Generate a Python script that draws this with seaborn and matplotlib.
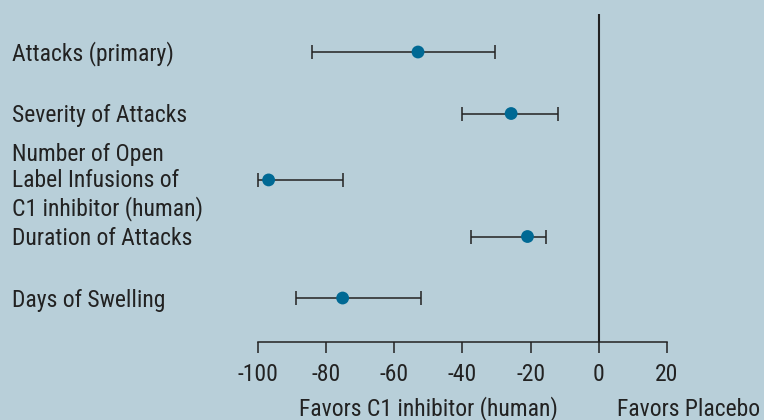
import matplotlib
matplotlib.use("Agg")
import matplotlib.pyplot as plt
import matplotlib.transforms as mtransforms
import seaborn as sns
import pandas as pd

# outcomes, estimate and 95% CI
outcomes = ["Attacks (primary)",
            "Severity of Attacks",
            "Number of Open\nLabel Infusions of\nC1 inhibitor (human)",
            "Duration of Attacks",
            "Days of Swelling"]
estimate = [-53.0, -25.7, -96.8, -20.9, -75.1]
ci_low = [-84.2, -40.0, -100.0, -37.4, -88.9]
ci_high = [-30.4, -12.0, -75.0, -15.4, -52.1]
xticks = [-100, -80, -60, -40, -20, 0, 20]

bg = "#b8cfd9"
dot = "#006994"
ink = "#222222"

sns.set_theme(style="white")
plt.rcParams["font.family"] = ["Roboto Condensed", "Archivo Narrow", "DejaVu Sans"]

# row positions (layout only)
row_y = [0, 1, 2.08, 3, 4]
df = pd.DataFrame({"outcome": outcomes, "est": estimate,
                   "lo": ci_low, "hi": ci_high, "y": row_y})

fig = plt.figure(figsize=(7.64, 4.2), dpi=100, facecolor=bg)
ax = fig.add_axes([257.7 / 764, (420 - 342.3) / 420,
                   (667 - 257.7) / 764, (342.3 - 14) / 420])
ax.set_facecolor(bg)

ax.errorbar(df["est"], df["y"],
            xerr=[df["est"] - df["lo"], df["hi"] - df["est"]],
            fmt="none", ecolor=ink, elinewidth=1.1, capsize=5.3,
            capthick=1.1, clip_on=False, zorder=2)
sns.scatterplot(data=df, x="est", y="y", ax=ax, color=dot, s=85,
                edgecolor="none", zorder=3, clip_on=False, legend=False)
ax.axvline(0, color=ink, lw=1.5, zorder=1)

ax.set_xlim(-100, 20)
ax.set_ylim(4.72, -0.618)
ax.set_xticks(xticks)
ax.set_xticklabels([str(t) for t in xticks])
ax.set_yticks([])
ax.set_xlabel("")
ax.set_ylabel("")
for s in ["top", "right", "left"]:
    ax.spines[s].set_visible(False)
ax.spines["bottom"].set_color(ink)
ax.spines["bottom"].set_linewidth(1.1)
ax.tick_params(axis="x", direction="out", length=8, width=1.1,
               color=ink, labelsize=17, labelcolor=ink, pad=7, bottom=True)

trans = mtransforms.blended_transform_factory(fig.transFigure, ax.transData)
trans = mtransforms.offset_copy(trans, fig=fig, x=0, y=-2, units="dots")
for lab, y in zip(outcomes, row_y):
    ax.text(12 / 764, y, lab, transform=trans, ha="left", va="center",
            fontsize=17, color=ink, linespacing=1.18)

fig.text(299 / 764, (420 - 409) / 420, "Favors C1 inhibitor (human)",
         ha="left", va="center", fontsize=17, color=ink)
fig.text(617 / 764, (420 - 409) / 420, "Favors Placebo",
         ha="left", va="center", fontsize=17, color=ink)

fig.savefig("out.png", dpi=100, facecolor=bg)
